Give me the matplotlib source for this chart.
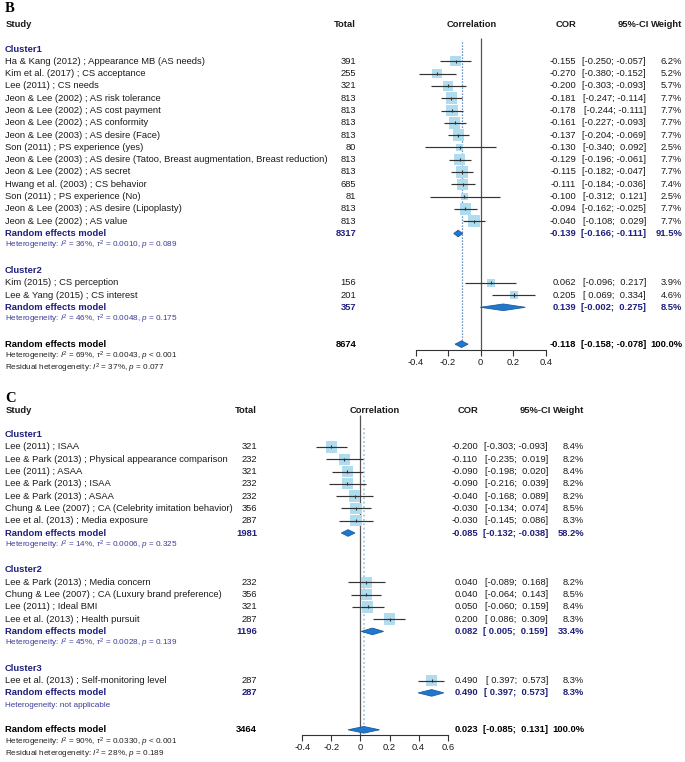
import numpy as np
import matplotlib.pyplot as plt
from matplotlib.patches import Polygon
from matplotlib.transforms import blended_transform_factory

plt.rcParams['font.family'] = ['Liberation Sans', 'DejaVu Sans']
plt.rcParams['mathtext.fontset'] = 'custom'
plt.rcParams['mathtext.rm'] = 'Liberation Sans'
plt.rcParams['mathtext.it'] = 'Liberation Sans:italic'

W, H = 685, 762
ROW = 12.3
NAVY = '#1f1f7c'
TXT = '#1a1a1a'
FS = 6.75
FS_HET = 5.9

# ---------------- panel B ----------------
b_study = ['Ha & Kang (2012) ; Appearance MB (AS needs)',
           'Kim et al. (2017) ; CS acceptance',
           'Lee (2011) ; CS needs',
           'Jeon & Lee (2002) ; AS risk tolerance',
           'Jeon & Lee (2002) ; AS cost payment',
           'Jeon & Lee (2002) ; AS conformity',
           'Jeon & Lee (2003) ; AS desire (Face)',
           'Son (2011) ; PS experience (yes)',
           'Jeon & Lee (2003) ; AS desire (Tatoo, Breast augmentation, Breast reduction)',
           'Jeon & Lee (2002) ; AS secret',
           'Hwang et al. (2003) ; CS behavior',
           'Son (2011) ; PS experience (No)',
           'Jeon & Lee (2003) ; AS desire (Lipoplasty)',
           'Jeon & Lee (2002) ; AS value',
           'Kim (2015) ; CS perception',
           'Lee & Yang (2015) ; CS interest']
b_group = [1] * 14 + [2] * 2
b_total = [391, 255, 321, 813, 813, 813, 813, 80, 813, 813, 685, 81, 813, 813, 156, 201]
b_cor = [-0.155, -0.270, -0.200, -0.181, -0.178, -0.161, -0.137, -0.130, -0.129,
         -0.115, -0.111, -0.100, -0.094, -0.040, 0.062, 0.205]
b_lo = [-0.250, -0.380, -0.303, -0.247, -0.244, -0.227, -0.204, -0.340, -0.196,
        -0.182, -0.184, -0.312, -0.162, -0.108, -0.096, 0.069]
b_hi = [-0.057, -0.152, -0.093, -0.114, -0.111, -0.093, -0.069, 0.092, -0.061,
        -0.047, -0.036, 0.121, -0.025, 0.029, 0.217, 0.334]
b_weight = [6.2, 5.2, 5.7, 7.7, 7.7, 7.7, 7.7, 2.5, 7.7, 7.7, 7.4, 2.5, 7.7, 7.7, 3.9, 4.6]

b_sub_total = [8317, 357]
b_sub_cor = [-0.139, 0.139]
b_sub_lo = [-0.166, -0.002]
b_sub_hi = [-0.111, 0.275]
b_sub_weight = [91.5, 8.5]
b_sub_i2 = ['36%', '46%']
b_sub_tau2 = ['0.0010', '0.0048']
b_sub_p = ['= 0.089', '= 0.175']

b_all = [8674, -0.118, -0.158, -0.078, 100.0]
b_all_het = ['69%', '0.0043', '< 0.001']
b_resid = ['37%', '= 0.077']
b_ticks = [-0.4, -0.2, 0, 0.2, 0.4]
b_ticklabels = ['-0.4', '-0.2', '0', '0.2', '0.4']

# ---------------- panel C ----------------
c_study = ['Lee (2011) ; ISAA',
           'Lee & Park (2013) ; Physical appearance comparison',
           'Lee (2011) ; ASAA',
           'Lee & Park (2013) ; ISAA',
           'Lee & Park (2013) ; ASAA',
           'Chung & Lee (2007) ; CA (Celebrity imitation behavior)',
           'Lee et al. (2013) ; Media exposure',
           'Lee & Park (2013) ; Media concern',
           'Chung & Lee (2007) ; CA (Luxury brand preference)',
           'Lee (2011) ; Ideal BMI',
           'Lee et al. (2013) ; Health pursuit',
           'Lee et al. (2013) ; Self-monitoring level']
c_group = [1] * 7 + [2] * 4 + [3]
c_total = [321, 232, 321, 232, 232, 356, 287, 232, 356, 321, 287, 287]
c_cor = [-0.200, -0.110, -0.090, -0.090, -0.040, -0.030, -0.030,
         0.040, 0.040, 0.050, 0.200, 0.490]
c_lo = [-0.303, -0.235, -0.198, -0.216, -0.168, -0.134, -0.145,
        -0.089, -0.064, -0.060, 0.086, 0.397]
c_hi = [-0.093, 0.019, 0.020, 0.039, 0.089, 0.074, 0.086,
        0.168, 0.143, 0.159, 0.309, 0.573]
c_weight = [8.4, 8.2, 8.4, 8.2, 8.2, 8.5, 8.3, 8.2, 8.5, 8.4, 8.3, 8.3]

c_sub_total = [1981, 1196, 287]
c_sub_cor = [-0.085, 0.082, 0.490]
c_sub_lo = [-0.132, 0.005, 0.397]
c_sub_hi = [-0.038, 0.159, 0.573]
c_sub_weight = [58.2, 33.4, 8.3]
c_sub_i2 = ['14%', '45%', None]
c_sub_tau2 = ['0.0006', '0.0028', None]
c_sub_p = ['= 0.325', '= 0.139', None]

c_all = [3464, 0.023, -0.085, 0.131, 100.0]
c_all_het = ['90%', '0.0330', '< 0.001']
c_resid = ['28%', '= 0.189']
c_ticks = [-0.4, -0.2, 0, 0.2, 0.4, 0.6]
c_ticklabels = ['-0.4', '-0.2', '0', '0.2', '0.4', '0.6']


def ci_text(lo, hi):
    return f'[{lo:6.3f}; {hi:6.3f}]'


def het_text(i2, tau2, p):
    if i2 is None:
        return 'Heterogeneity: not applicable'
    return rf'Heterogeneity: $I^2$ = {i2}, $\tau^2$ = {tau2}, $p$ {p}'


def diamond(ax, est, lo, hi, row, h=0.27):
    ax.add_patch(Polygon([(lo, row), (est, row - h), (hi, row), (est, row + h)],
                         closed=True, facecolor='#1f78cf', edgecolor='#1b5c9e',
                         lw=0.6, zorder=3, clip_on=False))


def panel(fig, p):
    top = p['top']
    x0, x1 = p['axis_px']
    y_top = top - 2 * ROW
    y_bot = top + 29 * ROW
    ax = fig.add_axes([x0 / W, 1 - y_bot / H, (x1 - x0) / W, (y_bot - y_top) / H])
    ax.set_xlim(p['ticks'][0], p['ticks'][-1])
    ax.set_ylim(29, -2)
    ax.patch.set_visible(False)
    tr = blended_transform_factory(fig.transFigure, ax.transData)
    cols = p['cols']

    def put(xpx, row, s, ha='left', **kw):
        kw.setdefault('fontsize', FS)
        kw.setdefault('color', TXT)
        ax.text(xpx / W, row, s, transform=tr, ha=ha, va='center', clip_on=False, **kw)

    fig.text(5 / W, 1 - p['letter_base'] / H, p['letter'], family='Liberation Serif',
             weight='bold', fontsize=10.5, va='baseline', ha='left')

    # header
    put(6, 0, 'Study', weight='bold')
    put(cols['total'], 0, 'Total', ha='right', weight='bold')
    put(cols['corr'], 0, 'Correlation', ha='center', weight='bold')
    put(cols['cor'], 0, 'COR', ha='right', weight='bold')
    put(cols['cihead'], 0, '95%-CI', ha='right', weight='bold')
    put(cols['w'], 0, 'Weight', ha='right', weight='bold')

    group = np.array(p['group'])
    wmax = max(p['weight'])
    row = 2
    study_rows = []
    for g in range(1, group.max() + 1):
        put(5, row, f'Cluster{g}', weight='bold', color=NAVY)
        row += 1
        for i in np.where(group == g)[0]:
            put(5, row, p['study'][i])
            put(cols['total'], row, str(p['total'][i]), ha='right')
            put(cols['cor'], row, f"{p['cor'][i]:.3f}", ha='right')
            put(cols['ci'], row, ci_text(p['lo'][i], p['hi'][i]), ha='right')
            put(cols['w'], row, f"{p['weight'][i]:.1f}%", ha='right')
            study_rows.append(row)
            row += 1
        k = g - 1
        bold = dict(weight='bold', color=NAVY)
        put(5, row, 'Random effects model', **bold)
        put(cols['total'], row, str(p['sub_total'][k]), ha='right', **bold)
        put(cols['cor'], row, f"{p['sub_cor'][k]:.3f}", ha='right', **bold)
        put(cols['ci'], row, ci_text(p['sub_lo'][k], p['sub_hi'][k]), ha='right', **bold)
        put(cols['w'], row, f"{p['sub_weight'][k]:.1f}%", ha='right', **bold)
        diamond(ax, p['sub_cor'][k], p['sub_lo'][k], p['sub_hi'][k], row)
        row += 1
        put(5, row, het_text(p['sub_i2'][k], p['sub_tau2'][k], p['sub_p'][k]),
            fontsize=FS_HET, color='#3d3d98')
        row += 2

    n, est, lo, hi, w = p['all']
    put(5, row, 'Random effects model', weight='bold', color='black')
    put(cols['total'], row, str(n), ha='right', weight='bold', color='black')
    put(cols['cor'], row, f'{est:.3f}', ha='right', weight='bold', color='black')
    put(cols['ci'], row, ci_text(lo, hi), ha='right', weight='bold', color='black')
    put(cols['w'], row, f'{w:.1f}%', ha='right', weight='bold', color='black')
    diamond(ax, est, lo, hi, row)
    all_row = row
    i2, tau2, pv = p['all_het']
    put(5, row + 1, het_text(i2, tau2, pv), fontsize=FS_HET, color='#222222')
    put(5, row + 2, rf'Residual heterogeneity: $I^2$ = {p["resid"][0]}, $p$ {p["resid"][1]}',
        fontsize=FS_HET, color='#222222')

    # study marks
    study_rows = np.array(study_rows)
    sizes = (11.5 * 0.72) ** 2 * np.array(p['weight']) / wmax
    ax.scatter(p['cor'], study_rows, s=sizes, marker='s', color='#b0dcef',
               edgecolors='none', zorder=2, clip_on=False)
    ax.hlines(study_rows, p['lo'], p['hi'], color='#333333', lw=0.85, zorder=4, clip_on=False)
    ax.vlines(p['cor'], study_rows - 0.13, study_rows + 0.13, color='#333333', lw=0.8,
              zorder=4, clip_on=False)

    # reference lines
    axis_row = all_row + 0.45
    ax.vlines(0, p['ref_top'], axis_row, color='#555555', lw=0.9, zorder=1)
    ax.vlines(est, 1.45, all_row - 0.3, color=p['dot_color'], lw=p['dot_lw'],
              linestyles=(0, (1, 1.4)), zorder=1)

    for s in ['top', 'left', 'right']:
        ax.spines[s].set_visible(False)
    ax.spines['bottom'].set_position(('data', axis_row))
    ax.spines['bottom'].set_bounds(p['ticks'][0], p['ticks'][-1])
    ax.spines['bottom'].set_color('#333333')
    ax.spines['bottom'].set_linewidth(0.8)
    ax.set_xticks(p['ticks'], p['ticklabels'])
    ax.tick_params(axis='x', direction='out', length=4.3, width=0.8, color='#333333',
                   labelsize=FS, labelcolor=TXT, pad=1.5)
    ax.set_yticks([])
    return ax


fig = plt.figure(figsize=(W / 100, H / 100), dpi=100)

panel(fig, dict(letter='B', letter_base=12, top=24.4, axis_px=(415.7, 545.7),
                ticks=b_ticks, ticklabels=b_ticklabels,
                cols=dict(total=356, corr=472, cor=576, cihead=649, ci=646, w=682),
                study=b_study, group=b_group, total=b_total, cor=b_cor, lo=b_lo,
                hi=b_hi, weight=b_weight, sub_total=b_sub_total, sub_cor=b_sub_cor,
                sub_lo=b_sub_lo, sub_hi=b_sub_hi, sub_weight=b_sub_weight,
                sub_i2=b_sub_i2, sub_tau2=b_sub_tau2, sub_p=b_sub_p,
                all=b_all, all_het=b_all_het, resid=b_resid,
                ref_top=1.1, dot_color='#3f73b8', dot_lw=0.9))

panel(fig, dict(letter='C', letter_base=402, top=410, axis_px=(302.3, 447.7),
                ticks=c_ticks, ticklabels=c_ticklabels,
                cols=dict(total=257, corr=375, cor=478, cihead=551, ci=548, w=584),
                study=c_study, group=c_group, total=c_total, cor=c_cor, lo=c_lo,
                hi=c_hi, weight=c_weight, sub_total=c_sub_total, sub_cor=c_sub_cor,
                sub_lo=c_sub_lo, sub_hi=c_sub_hi, sub_weight=c_sub_weight,
                sub_i2=c_sub_i2, sub_tau2=c_sub_tau2, sub_p=c_sub_p,
                all=c_all, all_het=c_all_het, resid=c_resid,
                ref_top=0.4, dot_color='#9cc8ea', dot_lw=1.3))

fig.savefig('out.png', dpi=100)
